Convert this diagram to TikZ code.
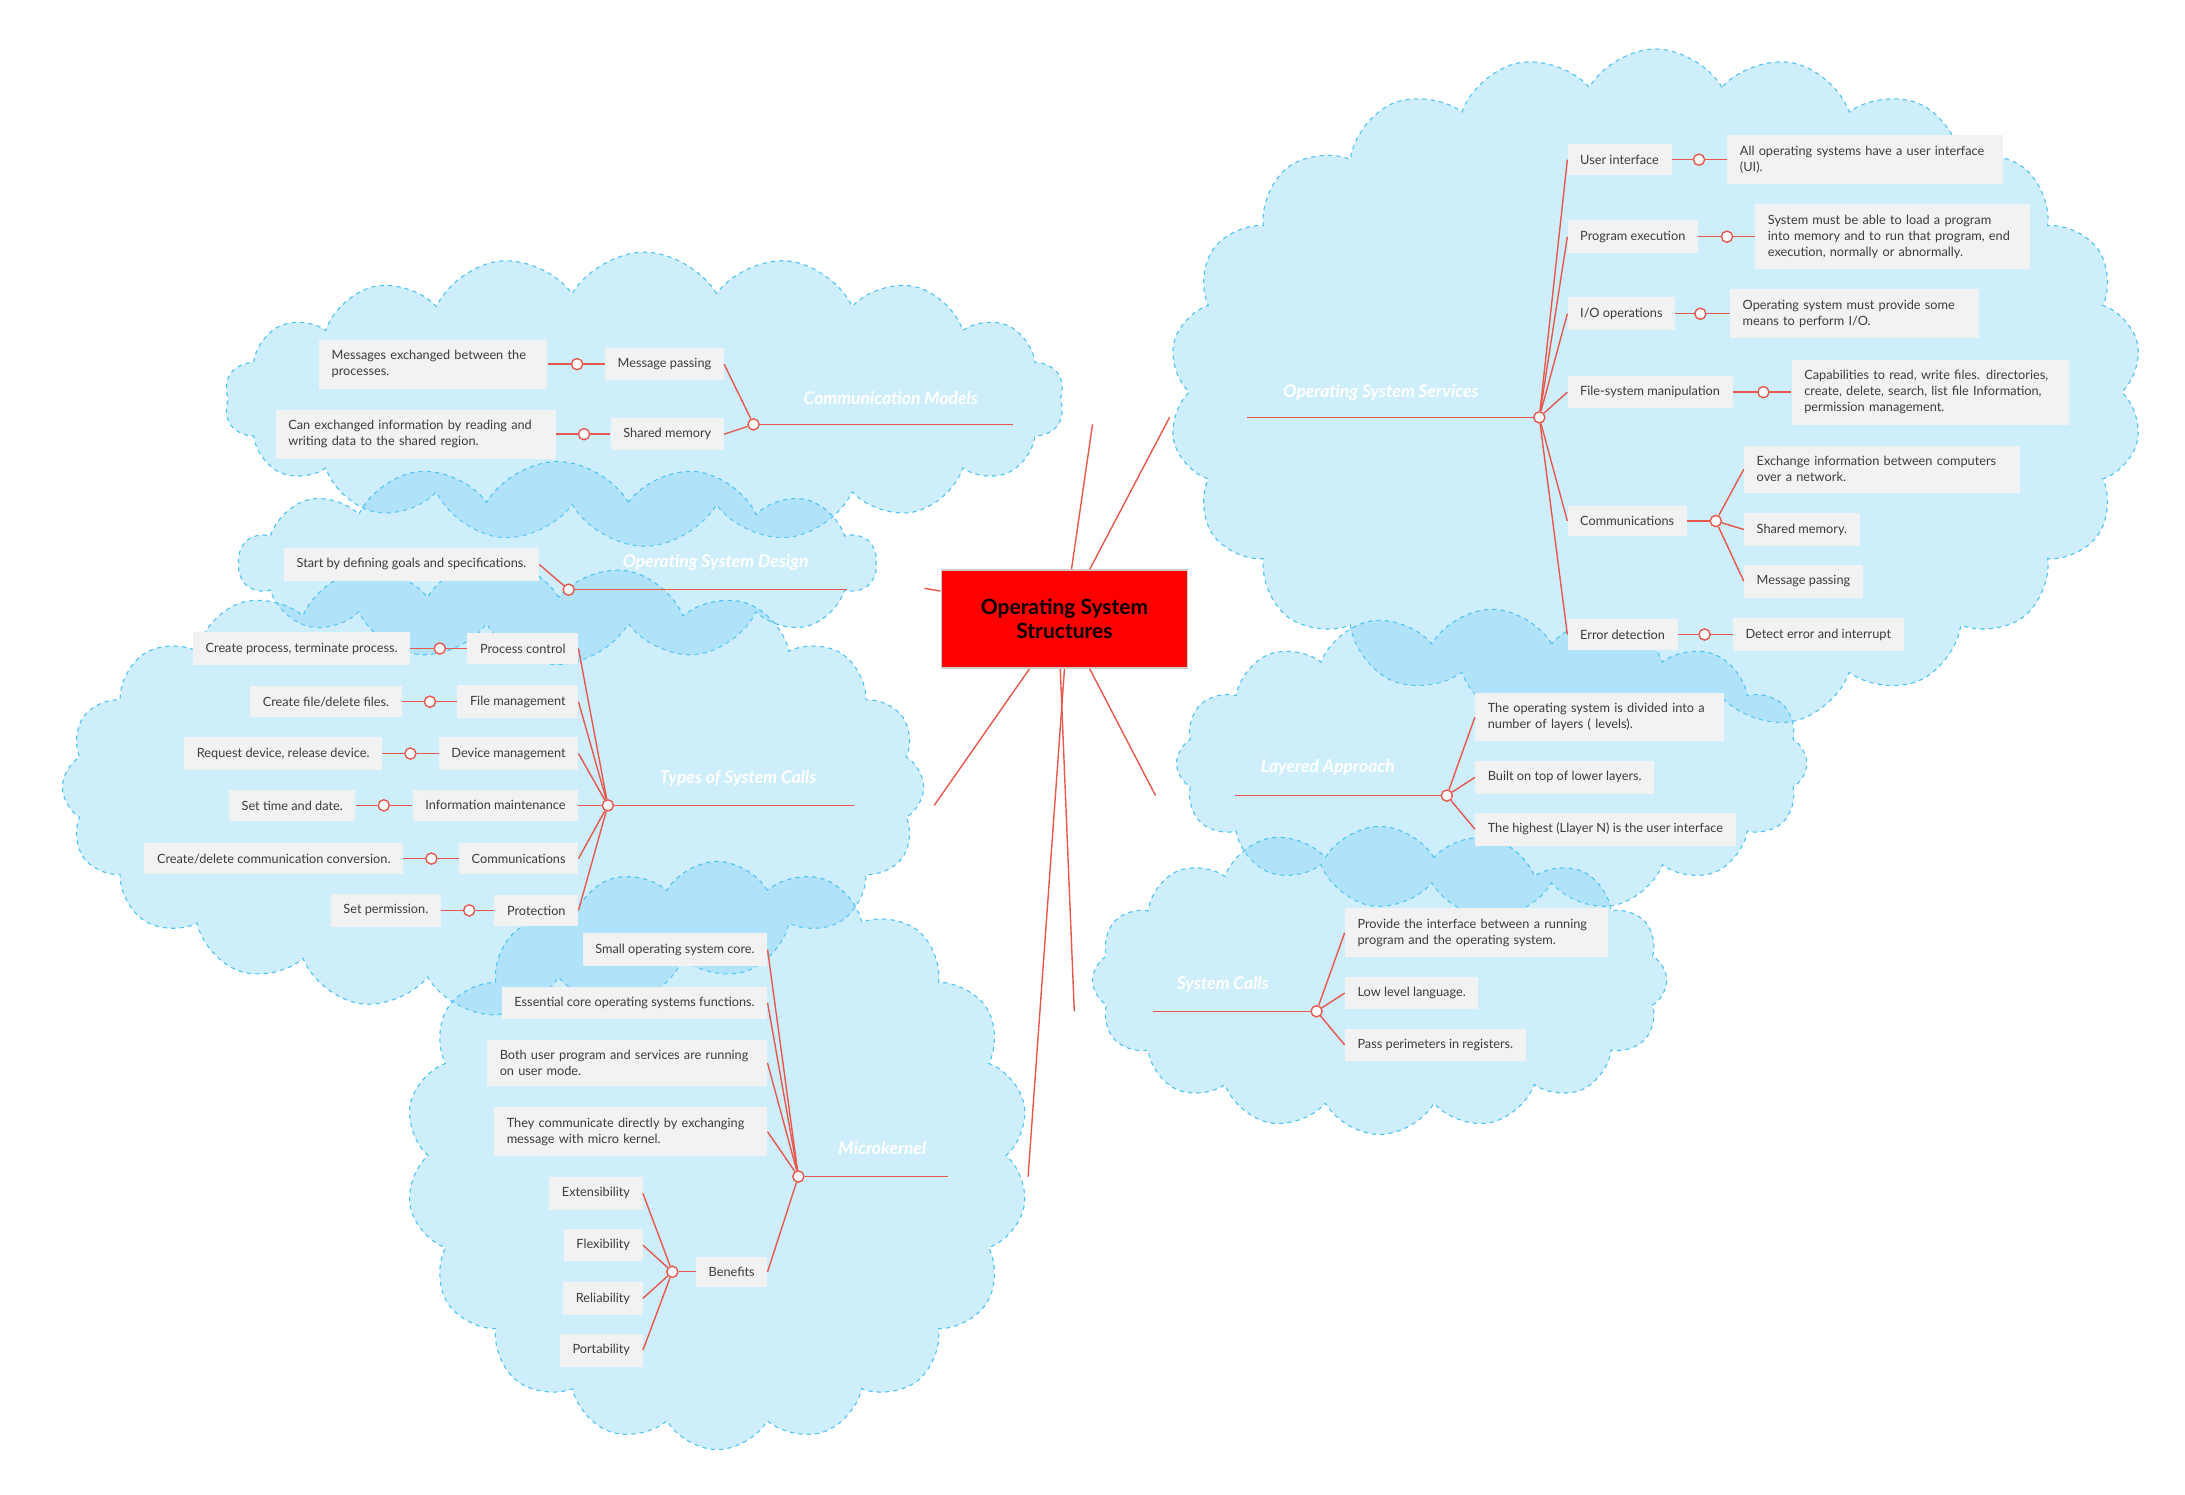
\documentclass[tikz,border=0pt]{standalone}
\usepackage{fontspec}
\setmainfont{Lato}
\usetikzlibrary{shapes.symbols}
\hyphenpenalty=10000
\exhyphenpenalty=10000
\definecolor{lred}{RGB}{232,88,74}
\definecolor{boxgray}{RGB}{242,242,242}
\definecolor{txt}{RGB}{60,60,60}
\definecolor{cloudf}{RGB}{119,207,246}
\definecolor{cloudb}{RGB}{79,195,247}
\tikzset{
 leaf/.style={fill=boxgray, font=\fontsize{9.1}{11.5}\selectfont, text=txt, inner xsep=9pt, inner ysep=7.5pt, align=left},
 hubc/.style={circle, draw=lred, fill=white, line width=1pt, inner sep=0pt, minimum size=8pt},
 lk/.style={draw=lred, line width=1pt},
 topic/.style={text=white, font=\bfseries\itshape\fontsize{12.5}{15}\selectfont},
 cl/.style={cloud, cloud puffs=#1, cloud puff arc=120, draw=cloudb, dashed, line width=0.8pt, fill=cloudf, fill opacity=0.354, draw opacity=1},
}
\begin{document}
\begin{tikzpicture}[x=1pt,y=-1pt]
\useasboundingbox (0,0) rectangle (1560,1067);
% clouds
\node[cl=18, minimum width=600pt, minimum height=210pt] (cA) at (460,285) {};
\node[cl=14, minimum width=455pt, minimum height=145pt] (cB) at (398,402) {};
\node[cl=20, minimum width=615pt, minimum height=325pt] (cC) at (352,562) {};
\node[cl=18, minimum width=445pt, minimum height=420pt] (cD) at (512,825) {};
\node[cl=22, minimum width=695pt, minimum height=490pt] (cE) at (1182,280) {};
\node[cl=16, minimum width=450pt, minimum height=220pt] (cF) at (1065,545) {};
\node[cl=16, minimum width=410pt, minimum height=220pt] (cG) at (985,700) {};

% title
\node[fill=red, draw=gray!40, line width=1pt, minimum width=176pt, minimum height=70pt, align=center, font=\bfseries\fontsize{15}{17}\selectfont] (title) at (760,442) {Operating System\\Structures};

% ---------- Communication Models
\node[topic] (tA) at (636,284) {Communication Models};
\node[hubc] (hA) at (538,303) {};
\coordinate (eA) at (723,303);
\coordinate (gA) at (780,303);
\draw[lk] (hA) -- (eA);
\draw[lk] (title.north) ++(5,0) coordinate (sA) -- (gA);
\node[leaf, anchor=east] (a1) at (517,260) {Message passing};
\node[hubc] (a1c) at (412,260) {};
\node[leaf, anchor=east, text width=145pt] (a1l) at (391,260) {Messages exchanged between the processes.};
\node[leaf, anchor=east] (a2) at (517,310) {Shared memory};
\node[hubc] (a2c) at (417,310) {};
\node[leaf, anchor=east, text width=182pt] (a2l) at (397,310) {Can exchanged information by reading and writing data to the shared region.};
\foreach \c in {a1,a2}{\draw[lk] (hA) -- (\c.east); \draw[lk] (\c.west) -- (\c c) -- (\c l.east);}

% ---------- OS Design
\node[topic] (tB) at (511,402) {Operating System Design};
\node[hubc] (hB) at (406,421) {};
\coordinate (eB) at (605,421);
\coordinate (gB) at (660,420);
\draw[lk] (hB) -- (eB);
\draw[lk] (title.west) ++(0,-20) -- (gB);
\node[leaf, anchor=east] (b1) at (385,403) {Start by defining goals and specifications.};
\draw[lk] (hB) -- (b1.east);

% ---------- Types of System Calls
\node[topic] (tC) at (527,556) {Types of System Calls};
\node[hubc] (hC) at (434,575) {};
\coordinate (eC) at (610,575);
\coordinate (gC) at (667,575);
\draw[lk] (hC) -- (eC);
\draw[lk] (title.south) ++(-25,0) -- (gC);
\node[leaf, anchor=east] (c1) at (413,463) {Process control};
\node[hubc] (c1c) at (314,463) {};
\node[leaf, anchor=east] (c1l) at (293,463) {Create process, terminate process.};
\node[leaf, anchor=east] (c2) at (413,501) {File management};
\node[hubc] (c2c) at (307,501) {};
\node[leaf, anchor=east] (c2l) at (287,501) {Create file/delete files.};
\node[leaf, anchor=east] (c3) at (413,538) {Device management};
\node[hubc] (c3c) at (293,538) {};
\node[leaf, anchor=east] (c3l) at (273,538) {Request device, release device.};
\node[leaf, anchor=east] (c4) at (413,575) {Information maintenance};
\node[hubc] (c4c) at (274,575) {};
\node[leaf, anchor=east] (c4l) at (254,575) {Set time and date.};
\node[leaf, anchor=east] (c5) at (413,613) {Communications};
\node[hubc] (c5c) at (308,613) {};
\node[leaf, anchor=east] (c5l) at (288,613) {Create/delete communication conversion.};
\node[leaf, anchor=east] (c6) at (413,650) {Protection};
\node[hubc] (c6c) at (335,650) {};
\node[leaf, anchor=east] (c6l) at (315,650) {Set permission.};
\foreach \c in {c1,c2,c3,c4,c5,c6}{\draw[lk] (hC) -- (\c.east); \draw[lk] (\c.west) -- (\c c) -- (\c l.east);}

% ---------- Microkernel
\node[topic] (tD) at (630,820) {Microkernel};
\node[hubc] (hD) at (570,840) {};
\coordinate (eD) at (677,840);
\coordinate (gD) at (734,840);
\draw[lk] (hD) -- (eD);
\draw[lk] (title.south) -- (gD);
\node[leaf, anchor=east] (d1) at (548,678) {Small operating system core.};
\node[leaf, anchor=east] (d2) at (548,716) {Essential core operating systems functions.};
\node[leaf, anchor=east, text width=182pt] (d3) at (548,759) {Both user program and services are running on user mode.};
\node[leaf, anchor=east, text width=177pt] (d4) at (548,808) {They communicate directly by exchanging message with micro kernel.};
\node[leaf, anchor=east] (d5) at (548,908) {Benefits};
\foreach \c in {d1,d2,d3,d4,d5}{\draw[lk] (hD) -- (\c.east);}
\node[hubc] (d5c) at (480,908) {};
\draw[lk] (d5.west) -- (d5c);
\node[leaf, anchor=east] (e1) at (459,852) {Extensibility};
\node[leaf, anchor=east] (e2) at (459,889) {Flexibility};
\node[leaf, anchor=east] (e3) at (459,927) {Reliability};
\node[leaf, anchor=east] (e4) at (459,964) {Portability};
\foreach \c in {e1,e2,e3,e4}{\draw[lk] (d5c) -- (\c.east);}

% ---------- OS Services
\node[topic] (tE) at (986,280) {Operating System Services};
\node[hubc] (hE) at (1099,298) {};
\coordinate (eE) at (890,298);
\coordinate (gE) at (835,298);
\draw[lk] (hE) -- (eE);
\draw[lk] (title.north) ++(18,0) -- (gE);
\node[leaf, anchor=west] (f1) at (1119,114) {User interface};
\node[hubc] (f1c) at (1213,114) {};
\node[leaf, anchor=west, text width=179pt] (f1l) at (1233,114) {All operating systems have a user interface (UI).};
\node[leaf, anchor=west] (f2) at (1119,169) {Program execution};
\node[hubc] (f2c) at (1233,169) {};
\node[leaf, anchor=west, text width=178pt] (f2l) at (1253,169) {System must be able to load a program into memory and to run that program, end execution, normally or abnormally.};
\node[leaf, anchor=west] (f3) at (1119,224) {I/O operations};
\node[hubc] (f3c) at (1214,224) {};
\node[leaf, anchor=west, text width=160pt] (f3l) at (1235,224) {Operating system must provide some means to perform I/O.};
\node[leaf, anchor=west] (f4) at (1119,280) {File-system manipulation};
\node[hubc] (f4c) at (1259,280) {};
\node[leaf, anchor=west, text width=180pt] (f4l) at (1279,280) {Capabilities to read, write files. directories, create, delete, search, list file Information, permission management.};
\node[leaf, anchor=west] (f6) at (1119,453) {Error detection};
\node[hubc] (f6c) at (1217,453) {};
\node[leaf, anchor=west] (f6l) at (1237,453) {Detect error and interrupt};
\foreach \c in {f1,f2,f3,f4,f6}{\draw[lk] (hE) -- (\c.west); \draw[lk] (\c.east) -- (\c c) -- (\c l.west);}
\node[leaf, anchor=west] (f5) at (1119,372) {Communications};
\node[hubc] (f5c) at (1225,372) {};
\draw[lk] (hE) -- (f5.west); \draw[lk] (f5.east) -- (f5c);
\node[leaf, anchor=west, text width=179pt] (g1) at (1245,335) {Exchange information between computers over a network.};
\node[leaf, anchor=west] (g2) at (1245,378) {Shared memory.};
\node[leaf, anchor=west] (g3) at (1245,415) {Message passing};
\foreach \c in {g1,g2,g3}{\draw[lk] (f5c) -- (\c.west);}

% ---------- Layered Approach
\node[topic] (tF) at (948,548) {Layered Approach};
\node[hubc] (hF) at (1033,568) {};
\coordinate (eF) at (882,568);
\coordinate (gF) at (825,568);
\draw[lk] (hF) -- (eF);
\draw[lk] (title.south) ++(18,0) -- (gF);
\node[leaf, anchor=west, text width=160pt] (h1) at (1053,512) {The operating system is divided into a number of layers ( levels).};
\node[leaf, anchor=west] (h2) at (1053,555) {Built on top of lower layers.};
\node[leaf, anchor=west] (h3) at (1053,592) {The highest (Llayer N) is the user interface};
\foreach \c in {h1,h2,h3}{\draw[lk] (hF) -- (\c.west);}

% ---------- System Calls
\node[topic] (tG) at (873,703) {System Calls};
\node[hubc] (hG) at (940,722) {};
\coordinate (eG) at (823,722);
\coordinate (gG) at (767,722);
\draw[lk] (hG) -- (eG);
\draw[lk] (title.south) ++(-3,0) -- (gG);
\node[leaf, anchor=west, text width=170pt] (i1) at (960,666) {Provide the interface between a running program and the operating system.};
\node[leaf, anchor=west] (i2) at (960,709) {Low level language.};
\node[leaf, anchor=west] (i3) at (960,746) {Pass perimeters in registers.};
\foreach \c in {i1,i2,i3}{\draw[lk] (hG) -- (\c.west);}
\end{tikzpicture}
\end{document}
